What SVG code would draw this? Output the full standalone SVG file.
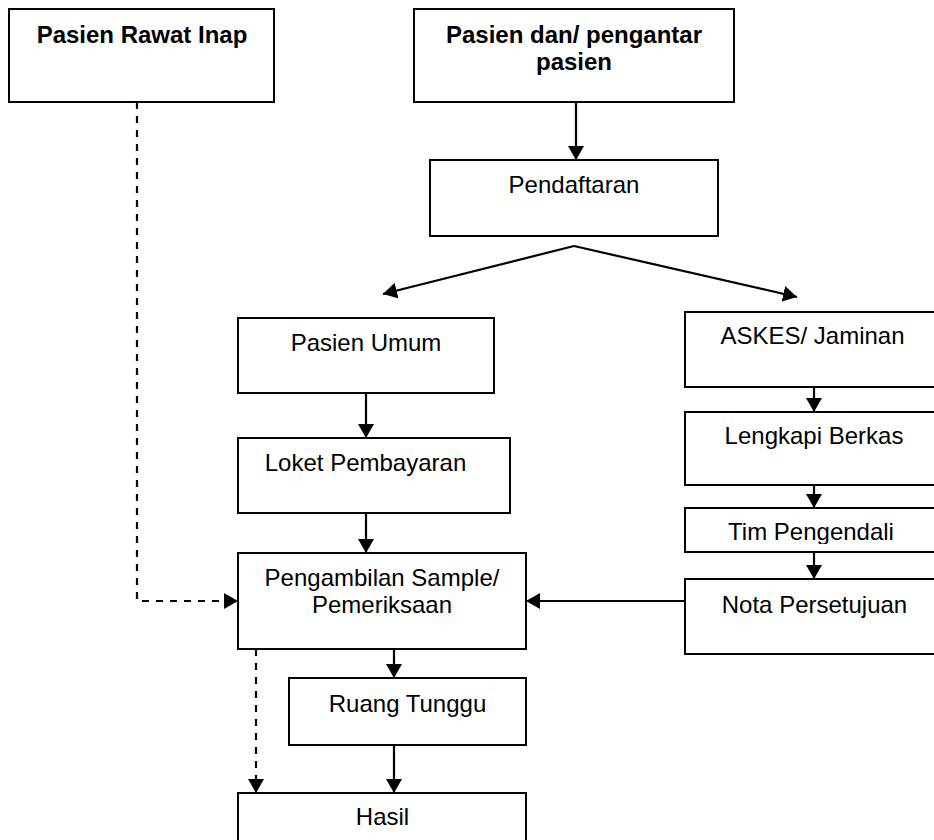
<svg xmlns="http://www.w3.org/2000/svg" width="934" height="840" viewBox="0 0 934 840">
<style>
.box{fill:#fff;stroke:#000;stroke-width:2}
.t{font-family:"Liberation Sans",Arial,sans-serif;font-size:24px;fill:#000;text-anchor:middle}
.b{font-weight:bold}
.c{fill:none;stroke:#000;stroke-width:2.2}
.d{stroke-dasharray:7 7}
</style>
<defs>
<marker id="ah" markerUnits="userSpaceOnUse" markerWidth="16" markerHeight="16" refX="14" refY="8" orient="auto">
<path d="M0,0 L14,8 L0,16 Z" fill="#000" stroke="none"/>
</marker>
<clipPath id="timclip"><rect x="685" y="508" width="260" height="36"/></clipPath>
</defs>
<rect width="934" height="840" fill="#fff"/>
<g id="rawat-inap"><rect class="box" x="9" y="9" width="265" height="93"/><text class="t b" x="142" y="43">Pasien Rawat Inap</text></g>
<g id="pengantar"><rect class="box" x="414" y="9" width="320" height="93"/><text class="t b" x="574" y="43">Pasien dan/ pengantar</text><text class="t b" x="574" y="70">pasien</text></g>
<g id="pendaftaran"><rect class="box" x="430" y="160" width="288" height="76"/><text class="t" x="574" y="193">Pendaftaran</text></g>
<g id="umum"><rect class="box" x="238" y="318" width="256" height="75"/><text class="t" x="366" y="351">Pasien Umum</text></g>
<g id="loket"><rect class="box" x="238" y="438" width="272" height="75"/><text class="t" x="365.5" y="471">Loket Pembayaran</text></g>
<g id="pengambilan"><rect class="box" x="238" y="553" width="288" height="96"/><text class="t" x="382" y="586">Pengambilan Sample/</text><text class="t" x="382" y="613">Pemeriksaan</text></g>
<g id="ruang"><rect class="box" x="289" y="678" width="237" height="67"/><text class="t" x="407.5" y="712">Ruang Tunggu</text></g>
<g id="hasil"><rect class="box" x="238" y="793" width="288" height="60"/><text class="t" x="382.5" y="825">Hasil</text></g>
<g id="askes"><rect class="box" x="685" y="312" width="270" height="75"/><text class="t" x="812.5" y="344">ASKES/ Jaminan</text></g>
<g id="lengkapi"><rect class="box" x="685" y="412" width="270" height="73"/><text class="t" x="814" y="444">Lengkapi Berkas</text></g>
<g id="tim"><rect class="box" x="685" y="508" width="270" height="44"/><text class="t" x="811" y="540" clip-path="url(#timclip)">Tim Pengendali</text></g>
<g id="nota"><rect class="box" x="685" y="579" width="270" height="75"/><text class="t" x="814.5" y="613">Nota Persetujuan</text></g>
<g id="connectors">
<line class="c" x1="576" y1="102" x2="576" y2="160" marker-end="url(#ah)"/>
<line class="c" x1="574" y1="246" x2="383" y2="294" marker-end="url(#ah)"/>
<line class="c" x1="574" y1="246" x2="797" y2="297" marker-end="url(#ah)"/>
<line class="c" x1="366" y1="393" x2="366" y2="438" marker-end="url(#ah)"/>
<line class="c" x1="366" y1="513" x2="366" y2="553" marker-end="url(#ah)"/>
<line class="c" x1="394" y1="649" x2="394" y2="678" marker-end="url(#ah)"/>
<line class="c" x1="394" y1="745" x2="394" y2="793" marker-end="url(#ah)"/>
<line class="c" x1="814" y1="387" x2="814" y2="412" marker-end="url(#ah)"/>
<line class="c" x1="814" y1="485" x2="814" y2="508" marker-end="url(#ah)"/>
<line class="c" x1="814" y1="552" x2="814" y2="579" marker-end="url(#ah)"/>
<line class="c" x1="685" y1="601" x2="526" y2="601" marker-end="url(#ah)"/>
<polyline class="c d" points="137,102 137,601 238,601" marker-end="url(#ah)"/>
<line class="c d" x1="256" y1="649" x2="256" y2="793" marker-end="url(#ah)"/>
</g>
</svg>
